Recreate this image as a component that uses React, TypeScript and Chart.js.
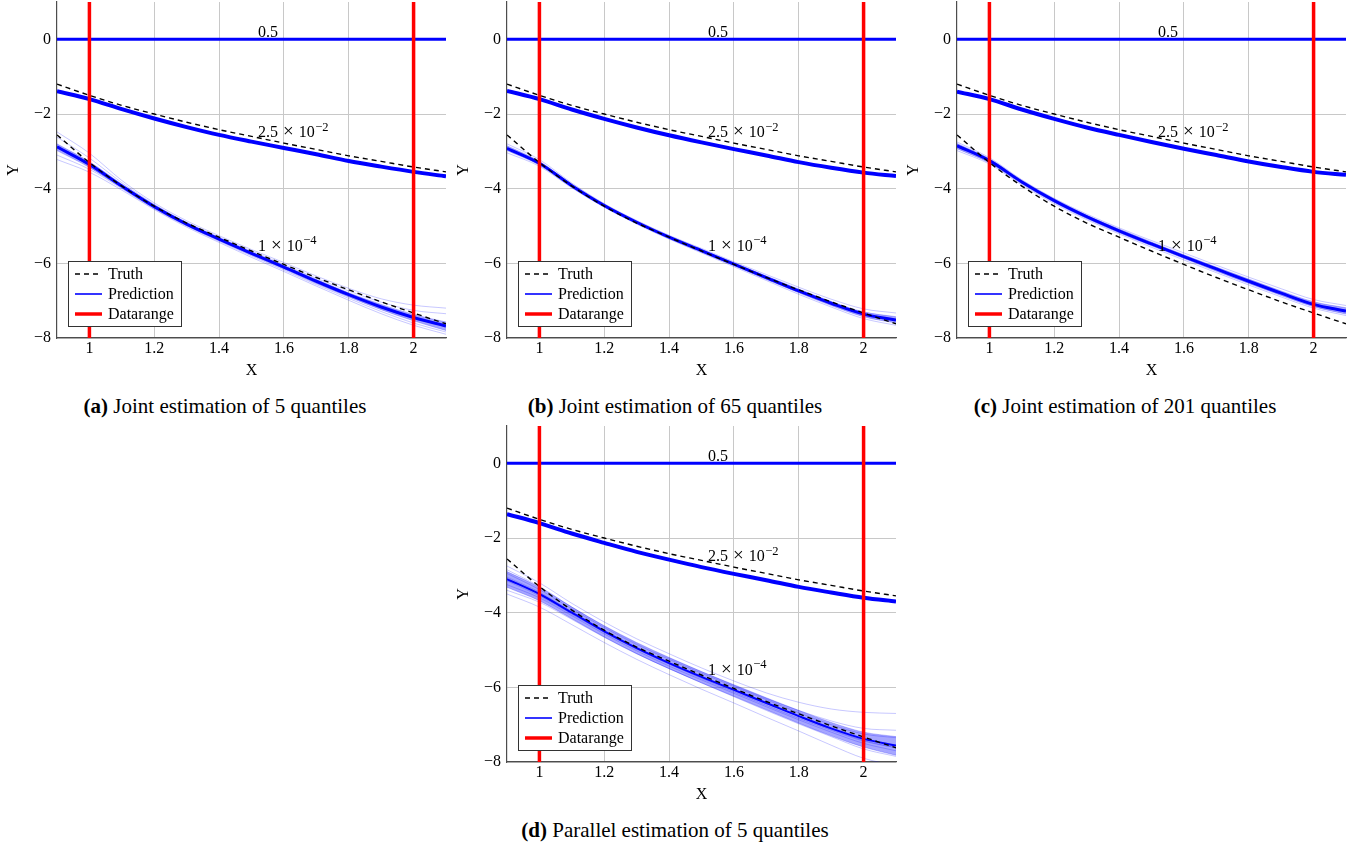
import React, { useEffect, useRef } from 'react';
import { Chart, registerables } from 'chart.js';

Chart.register(...registerables);

const SERIF = '"Liberation Serif", "Times New Roman", Times, serif';
const BLUE = '#0000ff';
const BLUE_THIN = 'rgba(0, 0, 255, 0.28)';
const BLUE_BAND = 'rgba(0, 0, 255, 0.35)';
const RED = '#ff0000';
const GRID = '#c8c8c8';
const AXIS = '#4d4d4d';

// ---------- data ----------
const xGrid = [0.9, 1.0, 1.1, 1.2, 1.3, 1.4, 1.5, 1.6, 1.7, 1.8, 1.9, 2.0, 2.1];
const xTickValues = [1, 1.2, 1.4, 1.6, 1.8, 2];
const xTickLabels = ['1', '1.2', '1.4', '1.6', '1.8', '2'];
const yTickValues = [-8, -6, -4, -2, 0];
const yTickLabels = ['−8', '−6', '−4', '−2', '0'];
const xRange = [0.9, 2.1];
const yRange = [-8, 1];
const dataRangeBounds = [1, 2];

const truthQ50 = [0, 0, 0, 0, 0, 0, 0, 0, 0, 0, 0, 0, 0];
const truthQ025 = [-1.2, -1.5, -1.77, -2.0, -2.22, -2.42, -2.6, -2.78, -2.95, -3.12, -3.27, -3.42, -3.55];
const truthQ1e4 = [-2.56, -3.3, -3.93, -4.47, -4.92, -5.3, -5.67, -6.03, -6.38, -6.71, -7.03, -7.33, -7.62];
const predQ50 = [0, 0, 0, 0, 0, 0, 0, 0, 0, 0, 0, 0, 0];

// (a) joint, 5 quantiles
const aPredQ025 = [-1.39, -1.6, -1.87, -2.12, -2.35, -2.56, -2.74, -2.91, -3.08, -3.26, -3.41, -3.55, -3.67];
const aPredQ1e4 = [-2.88, -3.35, -3.93, -4.48, -4.95, -5.35, -5.73, -6.1, -6.48, -6.84, -7.17, -7.45, -7.68];
const aBandHi = [-2.8, -3.28, -3.88, -4.44, -4.92, -5.32, -5.7, -6.06, -6.43, -6.79, -7.1, -7.37, -7.57];
const aBandLo = [-2.98, -3.43, -3.98, -4.52, -4.99, -5.39, -5.78, -6.15, -6.54, -6.9, -7.24, -7.54, -7.8];
const aThin1 = [-2.48, -3.05, -3.78, -4.38, -4.86, -5.26, -5.63, -5.98, -6.34, -6.67, -6.95, -7.12, -7.2];
const aThin2 = [-2.62, -3.18, -3.84, -4.42, -4.9, -5.3, -5.67, -6.03, -6.4, -6.74, -7.04, -7.26, -7.35];
const aThin3 = [-3.1, -3.48, -4.0, -4.54, -5.0, -5.41, -5.8, -6.18, -6.57, -6.94, -7.29, -7.6, -7.84];
const aThin4 = [-3.22, -3.56, -4.04, -4.56, -5.03, -5.44, -5.84, -6.22, -6.61, -6.99, -7.35, -7.66, -7.9];

// (b) joint, 65 quantiles
const bPredQ025 = [-1.38, -1.6, -1.88, -2.13, -2.36, -2.57, -2.76, -2.94, -3.11, -3.29, -3.44, -3.57, -3.66];
const bPredQ1e4 = [-2.92, -3.32, -3.92, -4.45, -4.9, -5.3, -5.66, -6.02, -6.38, -6.74, -7.07, -7.36, -7.52];
const bBandHi = [-2.85, -3.27, -3.88, -4.42, -4.87, -5.27, -5.63, -5.99, -6.34, -6.69, -7.02, -7.3, -7.43];
const bBandLo = [-2.98, -3.37, -3.96, -4.49, -4.93, -5.33, -5.7, -6.06, -6.43, -6.79, -7.13, -7.43, -7.6];
const bThin1 = [-2.8, -3.22, -3.85, -4.4, -4.85, -5.25, -5.6, -5.96, -6.3, -6.64, -6.96, -7.22, -7.33];
const bThin2 = [-3.04, -3.4, -3.98, -4.5, -4.95, -5.35, -5.72, -6.09, -6.46, -6.83, -7.17, -7.48, -7.66];

// (c) joint, 201 quantiles
const cPredQ025 = [-1.4, -1.6, -1.88, -2.13, -2.36, -2.56, -2.75, -2.93, -3.1, -3.27, -3.42, -3.55, -3.63];
const cPredQ1e4 = [-2.85, -3.25, -3.82, -4.32, -4.75, -5.13, -5.48, -5.82, -6.15, -6.48, -6.8, -7.1, -7.28];
const cBandHi = [-2.79, -3.2, -3.78, -4.28, -4.71, -5.08, -5.43, -5.77, -6.1, -6.42, -6.74, -7.03, -7.19];
const cBandLo = [-2.93, -3.31, -3.87, -4.37, -4.8, -5.18, -5.53, -5.87, -6.21, -6.54, -6.86, -7.16, -7.36];
const cThin1 = [-2.75, -3.17, -3.76, -4.26, -4.68, -5.05, -5.39, -5.72, -6.05, -6.37, -6.68, -6.97, -7.13];
const cThin2 = [-2.98, -3.34, -3.9, -4.4, -4.83, -5.21, -5.57, -5.91, -6.25, -6.58, -6.9, -7.2, -7.4];

// (d) parallel, 5 quantiles
const dPredQ025 = [-1.36, -1.6, -1.88, -2.13, -2.37, -2.58, -2.78, -2.96, -3.13, -3.31, -3.46, -3.6, -3.7];
const dPredQ1e4 = [-3.1, -3.5, -4.0, -4.5, -4.95, -5.35, -5.72, -6.07, -6.42, -6.77, -7.1, -7.38, -7.56];
const dBandHi = [-2.9, -3.32, -3.85, -4.36, -4.81, -5.21, -5.58, -5.93, -6.28, -6.62, -6.94, -7.2, -7.32];
const dBandLo = [-3.32, -3.68, -4.16, -4.65, -5.1, -5.5, -5.88, -6.24, -6.6, -6.96, -7.3, -7.6, -7.82];
const dThin1 = [-2.75, -3.2, -3.75, -4.25, -4.7, -5.1, -5.48, -5.83, -6.15, -6.4, -6.58, -6.67, -6.7];
const dThin2 = [-2.85, -3.3, -3.85, -4.35, -4.8, -5.2, -5.58, -5.95, -6.3, -6.62, -6.9, -7.1, -7.15];
const dThin3 = [-2.95, -3.38, -3.9, -4.4, -4.85, -5.25, -5.62, -5.98, -6.33, -6.68, -7.0, -7.25, -7.35];
const dThin4 = [-3.25, -3.6, -4.08, -4.57, -5.02, -5.43, -5.8, -6.16, -6.52, -6.87, -7.2, -7.5, -7.7];
const dThin5 = [-3.4, -3.72, -4.18, -4.66, -5.1, -5.5, -5.88, -6.25, -6.62, -6.98, -7.32, -7.65, -7.85];
const dThin6 = [-3.5, -3.85, -4.32, -4.8, -5.25, -5.66, -6.05, -6.42, -6.8, -7.17, -7.55, -7.9, -8.1];
const dThin7 = [-3.05, -3.45, -3.97, -4.47, -4.93, -5.33, -5.7, -6.06, -6.42, -6.78, -7.12, -7.42, -7.62];
const dThin8 = [-3.15, -3.55, -4.04, -4.53, -4.98, -5.38, -5.76, -6.12, -6.48, -6.83, -7.15, -7.44, -7.62];

const quantileLabelBase = ['0.5', '2.5', '1'];
const quantileLabelExp = ['', '−2', '−4'];
const quantileLabelX = [1.52, 1.52, 1.52];
const quantileLabelY = [0.05, -2.62, -5.66];

const legendLabels = ['Truth', 'Prediction', 'Datarange'];

// ---------- panels ----------
type PanelSpec = {
  key: string;
  left: number;
  top: number;
  tag: string;
  caption: string;
  q025: number[];
  q1e4: number[];
  q1e4Width: number;
  bandHi: number[];
  bandLo: number[];
  thin: number[][];
};

const panels: PanelSpec[] = [
  { key: 'a', left: 57, top: 2, tag: '(a)', caption: ' Joint estimation of 5 quantiles', q025: aPredQ025, q1e4: aPredQ1e4, q1e4Width: 3, bandHi: aBandHi, bandLo: aBandLo, thin: [aThin1, aThin2, aThin3, aThin4] },
  { key: 'b', left: 507, top: 2, tag: '(b)', caption: ' Joint estimation of 65 quantiles', q025: bPredQ025, q1e4: bPredQ1e4, q1e4Width: 3, bandHi: bBandHi, bandLo: bBandLo, thin: [bThin1, bThin2] },
  { key: 'c', left: 957, top: 2, tag: '(c)', caption: ' Joint estimation of 201 quantiles', q025: cPredQ025, q1e4: cPredQ1e4, q1e4Width: 3, bandHi: cBandHi, bandLo: cBandLo, thin: [cThin1, cThin2] },
  { key: 'd', left: 507, top: 426, tag: '(d)', caption: ' Parallel estimation of 5 quantiles', q025: dPredQ025, q1e4: dPredQ1e4, q1e4Width: 2, bandHi: dBandHi, bandLo: dBandLo, thin: [dThin1, dThin2, dThin3, dThin4, dThin5, dThin6, dThin7, dThin8] },
];

const CANVAS_W = 450;
const CANVAS_H = 385;
const Y_AXIS_W = 57;
const X_AXIS_H = 47;

function pts(ys: number[]) {
  return xGrid.map((x, i) => ({ x, y: ys[i] }));
}

function buildDatasets(p: PanelSpec) {
  const ds: any[] = [];
  const line = (ys: number[], color: string, width: number, order: number, extra: any = {}) => ({
    data: pts(ys),
    borderColor: color,
    borderWidth: width,
    order,
    pointRadius: 0,
    fill: false,
    tension: 0.4,
    cubicInterpolationMode: 'monotone',
    ...extra,
  });
  dataRangeBounds.forEach((v) =>
    ds.push({
      data: [
        { x: v, y: yRange[0] },
        { x: v, y: yRange[1] },
      ],
      borderColor: RED,
      borderWidth: 3.5,
      order: 0,
      pointRadius: 0,
      fill: false,
      tension: 0,
      cubicInterpolationMode: 'default',
    })
  );
  ds.push(line(truthQ025, '#000', 1.4, 1, { borderDash: [5, 4] }));
  ds.push(line(truthQ1e4, '#000', 1.4, 1, { borderDash: [5, 4] }));
  ds.push(line(predQ50, BLUE, 3, 2));
  ds.push(line(truthQ50, '#000', 1.4, 3, { borderDash: [5, 4] }));
  ds.push(line(p.q025, BLUE, 4, 2));
  ds.push(line(p.q1e4, BLUE, p.q1e4Width, 2));
  p.thin.forEach((t) => ds.push(line(t, BLUE_THIN, 0.8, 4)));
  const loIdx = ds.length;
  ds.push(line(p.bandLo, 'rgba(0,0,255,0.3)', 0.8, 5));
  ds.push(line(p.bandHi, 'rgba(0,0,255,0.3)', 0.8, 5, { fill: loIdx, backgroundColor: BLUE_BAND }));
  return ds;
}

const overlayPlugin = {
  id: 'quantileOverlay',
  afterDatasetsDraw(chart: any) {
    const { ctx, chartArea, scales } = chart;
    const xs = scales.x;
    const ys = scales.y;
    ctx.save();
    ctx.fillStyle = '#000';
    ctx.textAlign = 'left';
    ctx.textBaseline = 'alphabetic';
    quantileLabelBase.forEach((base, i) => {
      let px = xs.getPixelForValue(quantileLabelX[i]);
      const py = ys.getPixelForValue(quantileLabelY[i]);
      ctx.font = `16px ${SERIF}`;
      ctx.fillText(base, px, py);
      if (!quantileLabelExp[i]) return;
      px += ctx.measureText(base).width + 5;
      ctx.font = `19px ${SERIF}`;
      ctx.fillText('×', px, py);
      px += ctx.measureText('×').width + 5;
      ctx.font = `16px ${SERIF}`;
      ctx.fillText('10', px, py);
      px += ctx.measureText('10').width + 0.5;
      ctx.font = `12.5px ${SERIF}`;
      ctx.fillText(quantileLabelExp[i], px, py - 6.5);
    });

    // legend box
    const lw = 114;
    const lh = 66;
    const lx = chartArea.left + 11;
    const ly = chartArea.bottom - 11 - lh;
    ctx.fillStyle = '#fff';
    ctx.fillRect(lx, ly, lw, lh);
    ctx.strokeStyle = '#333';
    ctx.lineWidth = 1;
    ctx.strokeRect(lx + 0.5, ly + 0.5, lw - 1, lh - 1);
    const colors = ['#000', BLUE, RED];
    const widths = [1.4, 1.6, 3.5];
    legendLabels.forEach((lab, i) => {
      const ry = ly + 13 + i * 20;
      ctx.beginPath();
      ctx.setLineDash(i === 0 ? [5, 4] : []);
      ctx.strokeStyle = colors[i];
      ctx.lineWidth = widths[i];
      ctx.moveTo(lx + 7, ry);
      ctx.lineTo(lx + 34, ry);
      ctx.stroke();
      ctx.setLineDash([]);
      ctx.fillStyle = '#000';
      ctx.font = `16px ${SERIF}`;
      ctx.fillText(lab, lx + 40, ry + 5);
    });
    ctx.restore();
  },
};

function zeroPad(s: any) {
  s.paddingLeft = 0;
  s.paddingRight = 0;
  s.paddingTop = 0;
  s.paddingBottom = 0;
}

function Panel({ spec }: { spec: PanelSpec }) {
  const ref = useRef<HTMLCanvasElement | null>(null);
  useEffect(() => {
    if (!ref.current) return;
    const chart = new Chart(ref.current, {
      type: 'line',
      data: { datasets: buildDatasets(spec) },
      options: {
        animation: false,
        responsive: false,
        maintainAspectRatio: false,
        devicePixelRatio: 1,
        layout: { padding: { left: 0, top: 2, right: 4, bottom: 0 } },
        plugins: {
          legend: { display: false },
          tooltip: { enabled: false },
        },
        scales: {
          x: {
            type: 'linear',
            min: xRange[0],
            max: xRange[1],
            afterBuildTicks: (s: any) => {
              s.ticks = xTickValues.map((v) => ({ value: v }));
            },
            afterFit: (s: any) => {
              s.height = X_AXIS_H;
              zeroPad(s);
            },
            ticks: {
              callback: (_v: any, i: number) => xTickLabels[i],
              color: '#000',
              font: { family: SERIF, size: 16 },
              padding: 1,
              maxRotation: 0,
              autoSkip: false,
            },
            grid: { color: GRID, lineWidth: 1, drawTicks: false },
            border: { display: true, color: AXIS, width: 1.2 },
            title: {
              display: true,
              text: 'X',
              color: '#000',
              font: { family: SERIF, size: 16 },
              padding: { top: 0, bottom: 5 },
            },
          },
          y: {
            type: 'linear',
            min: yRange[0],
            max: yRange[1],
            afterBuildTicks: (s: any) => {
              s.ticks = yTickValues.map((v) => ({ value: v }));
            },
            afterFit: (s: any) => {
              s.width = Y_AXIS_W;
              zeroPad(s);
            },
            ticks: {
              callback: (_v: any, i: number) => yTickLabels[i],
              color: '#000',
              font: { family: SERIF, size: 16 },
              padding: 6,
              autoSkip: false,
            },
            grid: { color: GRID, lineWidth: 1, drawTicks: false },
            border: { display: true, color: AXIS, width: 1.2 },
            title: {
              display: true,
              text: 'Y',
              color: '#000',
              font: { family: SERIF, size: 16 },
              padding: { top: 4, bottom: 0 },
            },
          },
        },
      } as any,
      plugins: [overlayPlugin],
    });
    return () => chart.destroy();
  }, [spec]);

  const canvasLeft = spec.left - Y_AXIS_W;
  const canvasTop = spec.top - 2;
  const captionCenter = spec.left + 168;
  return (
    <>
      <canvas
        ref={ref}
        width={CANVAS_W}
        height={CANVAS_H}
        style={{ position: 'absolute', left: canvasLeft, top: canvasTop, width: CANVAS_W, height: CANVAS_H, display: 'block' }}
      />
      <div
        style={{
          position: 'absolute',
          left: captionCenter - 250,
          top: spec.top + 394,
          width: 500,
          textAlign: 'center',
          fontFamily: SERIF,
          fontSize: 21,
          lineHeight: '21px',
          color: '#000',
          whiteSpace: 'nowrap',
        }}
      >
        <b>{spec.tag}</b>
        {spec.caption}
      </div>
    </>
  );
}

export default function App() {
  return (
    <div style={{ position: 'absolute', left: 0, top: 0, width: 1364, height: 849, background: '#fff', overflow: 'hidden' }}>
      {panels.map((p) => (
        <Panel key={p.key} spec={p} />
      ))}
    </div>
  );
}
